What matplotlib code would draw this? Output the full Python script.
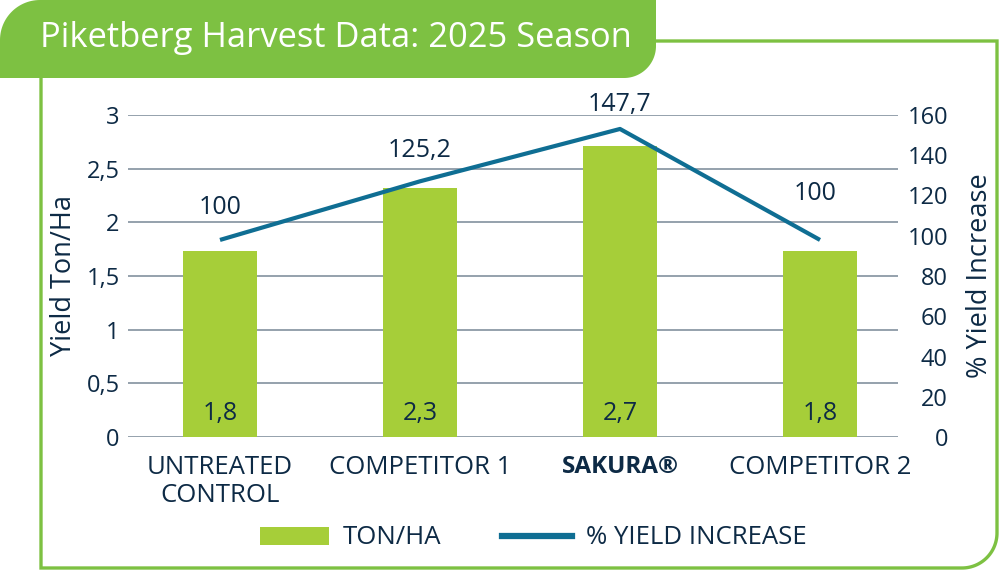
import numpy as np
import matplotlib
matplotlib.use("Agg")
import matplotlib.pyplot as plt
from matplotlib.path import Path
from matplotlib.patches import PathPatch, Patch
from matplotlib.lines import Line2D
from matplotlib.transforms import Affine2D

# ---- data ----
categories = ["UNTREATED\nCONTROL", "COMPETITOR 1", "SAKURA®", "COMPETITOR 2"]
yield_ton_ha = [1.73, 2.32, 2.71, 1.73]
yield_labels = ["1,8", "2,3", "2,7", "1,8"]
pct_increase = [100, 125.2, 147.7, 100]
pct_labels = ["100", "125,2", "147,7", "100"]
left_ticks = [0, 0.5, 1, 1.5, 2, 2.5, 3]
left_ticklabels = ["0", "0,5", "1", "1,5", "2", "2,5", "3"]
right_ticks = [0, 20, 40, 60, 80, 100, 120, 140, 160]

# label offsets (points) for the % labels -- styling only
pct_label_offsets = [(0, 23), (0, 22.5), (0, 17.5), (-3.5, 33.5)]

W, H = 1002, 572
BAR_GREEN = "#a6ce39"
LINE_BLUE = "#0f6e93"
FRAME_GREEN = "#7dc142"
TEXT = "#0d2a45"
GRID = "#8c9aa6"

plt.rcParams['font.family'] = ['Open Sans', 'DejaVu Sans']
fig = plt.figure(figsize=(W / 100, H / 100), dpi=100)
px = Affine2D().scale(1 / W, 1 / H) + fig.transFigure


def arc(cx, cy, r, a0, a1, n=30):
    t = np.radians(np.linspace(a0, a1, n))
    return [(cx + r * np.cos(t_), cy + r * np.sin(t_)) for t_ in t]


def Y(y):
    return H - y

# outer frame
frame_pts = [(656, Y(41)), (997, Y(41)), (997, Y(533))]
frame_pts += arc(962, Y(533), 35, 0, -90)
frame_pts += [(41, Y(568)), (41, Y(78))]
fig.patches.append(PathPatch(Path(frame_pts), transform=px, facecolor="none",
                             edgecolor=FRAME_GREEN, lw=2.4, zorder=0))

# header tab
hdr = [(0, Y(78)), (0, Y(40))]
hdr += arc(40, Y(40), 40, 180, 90)
hdr += [(656, Y(0)), (656, Y(46))]
hdr += arc(624, Y(46), 32, 0, -90)
hdr += [(0, Y(78))]
fig.patches.append(PathPatch(Path(hdr, closed=True), transform=px, facecolor=FRAME_GREEN,
                             edgecolor="none", zorder=1))
fig.text(40 / W, 1 - 38 / H, "Piketberg Harvest Data: 2025 Season", color="white",
         fontsize=24.8, va="center", ha="left")

# main axes
ax = fig.add_axes([128 / W, 1 - 437 / H, (898 - 128) / W, (437 - 115) / H])
x = np.arange(len(categories))
ax.bar(x, yield_ton_ha, width=0.37, color=BAR_GREEN, zorder=2)
ax.set_xlim(-0.46, 3.39)
ax.set_ylim(0, 3)
ax.set_yticks(left_ticks)
ax.set_yticklabels(left_ticklabels)
ax.grid(axis="y", color=GRID, lw=1.3, zorder=0)
for s in ax.spines.values():
    s.set_visible(False)
ax.tick_params(axis="y", length=0, pad=6, labelsize=17, labelcolor=TEXT)
ax.set_xticks(x)
ax.set_xticklabels(categories, fontsize=18.5, color=TEXT, linespacing=1.15)
ax.get_xticklabels()[2].set_fontweight("bold")
ax.get_xticklabels()[2].set_fontsize(17.5)
ax.tick_params(axis="x", length=0, pad=13)
ax.set_ylabel("Yield Ton/Ha", fontsize=19.5, color=TEXT, labelpad=6)
for xi, v, lab in zip(x, yield_ton_ha, yield_labels):
    ax.text(xi, 0.22, lab, ha="center", va="center", fontsize=18, color=TEXT, zorder=3)

# right axis (ticks only)
ax2 = ax.twinx()
ax2.set_ylim(0, 160)
ax2.set_yticks(right_ticks)
for s in ax2.spines.values():
    s.set_visible(False)
ax2.tick_params(axis="y", length=0, pad=36, labelsize=17, labelcolor=TEXT)
for t in ax2.get_yticklabels():
    t.set_horizontalalignment("right")
ax2.set_ylabel("% Yield Increase", fontsize=19.5, color=TEXT, labelpad=13)

# line on its own hidden scale
ax3 = ax.twinx()
ax3.set_ylim(15.3, 153.7)
ax3.axis("off")
ax3.plot(x, pct_increase, color=LINE_BLUE, lw=3.0, solid_capstyle="butt", zorder=4)
for xi, v, lab, off in zip(x, pct_increase, pct_labels, pct_label_offsets):
    ax3.annotate(lab, (xi, v), xytext=off, textcoords="offset points",
                 ha="center", va="center", fontsize=18, color=TEXT)

# legend
handles = [Patch(facecolor=BAR_GREEN, edgecolor="none"),
           Line2D([], [], color=LINE_BLUE, lw=4.5)]
fig.legend(handles, ["TON/HA", "% YIELD INCREASE"], loc="center",
           bbox_to_anchor=(533 / W, 1 - 538 / H), ncol=2, frameon=False,
           fontsize=18.5, handlelength=2.7, handleheight=0.7, columnspacing=2.35,
           handletextpad=0.55, labelcolor=TEXT)

fig.savefig("out.png", dpi=100)
